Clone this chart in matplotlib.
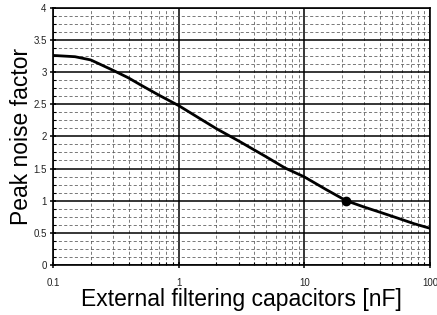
import matplotlib
matplotlib.use("Agg")
import matplotlib.pyplot as plt
from matplotlib.ticker import MultipleLocator, LogLocator, FixedLocator, FixedFormatter, NullFormatter

cap_nF = [0.1, 0.15, 0.2, 0.3, 0.4, 0.5, 0.7, 1, 2, 3, 5, 7, 10, 15, 21.5, 30, 40, 55, 75, 100]
peak_noise = [3.26, 3.24, 3.19, 3.03, 2.91, 2.80, 2.64, 2.48, 2.12, 1.93, 1.68, 1.51, 1.37, 1.17, 1.0, 0.90, 0.82, 0.73, 0.64, 0.57]
marker_x = [21.5]
marker_y = [1.0]
xtick_vals = [0.1, 1, 10, 100]
xtick_labels = ["0.1", "1", "10", "100"]
ytick_vals = [0, 0.5, 1, 1.5, 2, 2.5, 3, 3.5, 4]
ytick_labels = ["0", "0.5", "1", "1.5", "2", "2.5", "3", "3.5", "4"]

plt.rcParams['font.family'] = ['Liberation Sans', 'DejaVu Sans']

fig = plt.figure(figsize=(4.37, 3.15), dpi=100)
ax = fig.add_axes([0.121, 0.159, 0.863, 0.816])

ax.set_xscale('log')
ax.set_xlim(0.1, 100)
ax.set_ylim(0, 4)

ax.xaxis.set_major_locator(FixedLocator(xtick_vals))
ax.xaxis.set_major_formatter(FixedFormatter(xtick_labels))
ax.xaxis.set_minor_locator(LogLocator(base=10, subs=range(2, 10)))
ax.xaxis.set_minor_formatter(NullFormatter())
ax.yaxis.set_major_locator(FixedLocator(ytick_vals))
ax.yaxis.set_major_formatter(FixedFormatter(ytick_labels))
ax.yaxis.set_minor_locator(MultipleLocator(0.125))

ax.grid(True, which='major', color='black', linewidth=1.1, linestyle='-')
ax.grid(True, which='minor', color='#555555', linewidth=0.55, linestyle=(0, (4, 3)))
ax.set_axisbelow(True)

ax.plot(cap_nF, peak_noise, color='black', linewidth=2, solid_capstyle='round',
        solid_joinstyle='round', zorder=3)
ax.plot(marker_x, marker_y, 'o', color='black', markersize=6, zorder=4)

for s in ax.spines.values():
    s.set_linewidth(1.2)
    s.set_color('black')

ax.tick_params(axis='both', which='major', labelsize=7, labelcolor='#222222',
               direction='inout', length=5, width=1.1, pad=2)
ax.tick_params(axis='x', which='major', pad=7)
ax.tick_params(axis='both', which='minor', direction='in', length=2.5, width=0.8)

ax.set_xlabel("External filtering capacitors [nF]", fontsize=16.5, labelpad=0)
ax.set_ylabel("Peak noise factor", fontsize=16.5, labelpad=0)

fig.savefig("out.png", dpi=100)
